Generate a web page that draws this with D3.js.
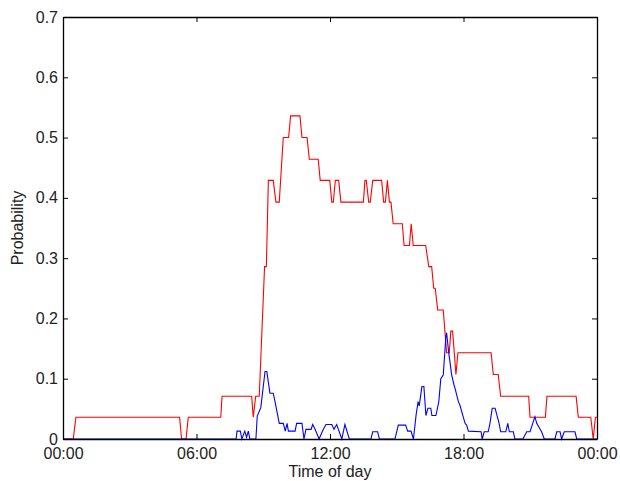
<!DOCTYPE html>
<html>
<head>
<meta charset="utf-8">
<script src="https://cdn.jsdelivr.net/npm/d3@7"></script>
<style>
  body { margin: 0; background: #fff; }
  text { font-family: "Liberation Sans", Arial, sans-serif; }
</style>
</head>
<body>
<div id="my_dataviz"></div>
<script>
// x ticks (hours) and their labels
var hourTicks = [0, 6, 12, 18, 24]
var hourLabels = ["00:00", "06:00", "12:00", "18:00", "00:00"]
var probTicks = [0, 0.1, 0.2, 0.3, 0.4, 0.5, 0.6, 0.7]

// red series: [hour of day, probability]
var redSeries = [
  [0, 0], [0.46, 0], [0.58, 0.036], [5.24, 0.036], [5.33, 0], [5.53, 0], [5.63, 0.036],
  [7.09, 0.036], [7.15, 0.071], [8.48, 0.071], [8.55, 0.036], [8.66, 0.071], [8.82, 0.071],
  [9.06, 0.286], [9.14, 0.286], [9.23, 0.429], [9.45, 0.429], [9.57, 0.393], [9.72, 0.393],
  [9.90, 0.5], [10.14, 0.5], [10.23, 0.536], [10.65, 0.536], [10.74, 0.5], [10.97, 0.5],
  [11.07, 0.464], [11.47, 0.464], [11.56, 0.429], [11.99, 0.429], [12.08, 0.393], [12.15, 0.393],
  [12.24, 0.429], [12.39, 0.429], [12.49, 0.393], [13.50, 0.393], [13.57, 0.429], [13.63, 0.429],
  [13.74, 0.393], [13.81, 0.393], [13.92, 0.429], [14.32, 0.429], [14.41, 0.393], [14.49, 0.393],
  [14.58, 0.429], [14.67, 0.393], [14.74, 0.393], [14.84, 0.357], [15.25, 0.357], [15.33, 0.321],
  [15.57, 0.321], [15.65, 0.357], [15.74, 0.321], [16.30, 0.321], [16.44, 0.286], [16.57, 0.286],
  [16.66, 0.25], [16.73, 0.25], [16.84, 0.214], [17.09, 0.214], [17.24, 0.143], [17.36, 0.143],
  [17.43, 0.179], [17.51, 0.179], [17.66, 0.107], [17.75, 0.143], [19.24, 0.143], [19.34, 0.107],
  [19.56, 0.107], [19.67, 0.071], [20.93, 0.071], [20.99, 0.036], [21.68, 0.036], [21.75, 0.071],
  [23.06, 0.071], [23.16, 0.036], [23.72, 0.036], [23.83, 0], [23.93, 0.036], [24, 0.036]
]

// blue series: [hour of day, probability]
var blueSeries = [
  [0, 0], [7.78, 0], [7.82, 0.013], [7.97, 0.013], [8.04, 0], [8.17, 0.013], [8.25, 0.003],
  [8.33, 0.013], [8.40, 0], [8.67, 0], [8.73, 0.038], [8.89, 0.052], [9.08, 0.112], [9.16, 0.112],
  [9.30, 0.076], [9.45, 0.076], [9.54, 0.06], [9.72, 0.026], [9.90, 0.026], [9.99, 0.013],
  [10.07, 0.026], [10.13, 0.013], [10.43, 0.013], [10.50, 0.026], [10.74, 0.026], [10.83, 0],
  [10.92, 0.016], [11.15, 0.016], [11.22, 0.024], [11.33, 0.016], [11.51, 0], [11.70, 0.016],
  [11.82, 0.024], [12.08, 0.024], [12.18, 0.016], [12.30, 0.024], [12.53, 0], [12.67, 0.024],
  [12.87, 0], [13.84, 0], [13.92, 0.012], [14.14, 0.012], [14.22, 0], [14.92, 0], [15.07, 0.023],
  [15.40, 0.023], [15.49, 0.013], [15.64, 0.013], [15.75, 0], [15.87, 0.04], [15.96, 0.062],
  [16.01, 0.055], [16.13, 0.087], [16.22, 0.087], [16.31, 0.039], [16.40, 0.051], [16.53, 0.051],
  [16.58, 0.039], [16.76, 0.039], [16.89, 0.062], [16.98, 0.1], [17.09, 0.106], [17.21, 0.171],
  [17.24, 0.176], [17.33, 0.145], [17.47, 0.106], [17.57, 0.09], [17.62, 0.084], [17.77, 0.062],
  [17.84, 0.056], [18.07, 0.026], [18.14, 0.023], [18.22, 0.013], [18.79, 0.012], [18.84, 0],
  [18.93, 0.012], [19.11, 0.012], [19.19, 0.026], [19.29, 0.051], [19.42, 0.051], [19.60, 0.026],
  [19.67, 0.012], [19.90, 0.012], [19.99, 0.026], [20.06, 0.012], [20.24, 0.012], [20.31, 0],
  [20.67, 0], [20.84, 0.012], [20.99, 0.012], [21.21, 0.037], [21.29, 0.026], [21.51, 0.012],
  [21.63, 0], [22.11, 0], [22.19, 0.012], [22.34, 0.012], [22.41, 0], [22.53, 0.012],
  [23.01, 0.012], [23.09, 0], [24, 0]
]

// set the dimensions and margins of the graph
var margin = {top: 17, right: 23, bottom: 42, left: 63},
    width = 620 - margin.left - margin.right,
    height = 481 - margin.top - margin.bottom

var svg = d3.select("#my_dataviz")
  .append("svg")
    .attr("width", 620)
    .attr("height", 481)
  .append("g")
    .attr("transform", "translate(" + margin.left + "," + margin.top + ")")

var x = d3.scaleLinear().domain([0, 24]).range([0, width])
var y = d3.scaleLinear().domain([0, 0.7]).range([height, 0])

// lines
var line = d3.line()
  .x(function(d) { return x(d[0]) })
  .y(function(d) { return y(d[1]) })

svg.append("path")
  .datum(redSeries)
  .attr("fill", "none")
  .attr("stroke", "#ff0000")
  .attr("stroke-width", 1.1)
  .attr("d", line)

svg.append("path")
  .datum(blueSeries)
  .attr("fill", "none")
  .attr("stroke", "#0000ff")
  .attr("stroke-width", 1.1)
  .attr("d", line)

// axes, ticks pointing inward
svg.append("g")
  .attr("transform", "translate(0," + height + ")")
  .call(d3.axisBottom(x).tickValues(hourTicks).tickSize(-5).tickSizeOuter(0).tickPadding(9)
    .tickFormat(function(d, i) { return hourLabels[i] }))

svg.append("g")
  .call(d3.axisTop(x).tickValues(hourTicks).tickSize(-5).tickSizeOuter(0).tickFormat(""))

svg.append("g")
  .call(d3.axisLeft(y).tickValues(probTicks).tickSize(-5).tickSizeOuter(0).tickPadding(5)
    .tickFormat(function(d) { return d === 0 ? "0" : d3.format(".1f")(d) }))

svg.append("g")
  .attr("transform", "translate(" + width + ",0)")
  .call(d3.axisRight(y).tickValues(probTicks).tickSize(-5).tickSizeOuter(0).tickFormat(""))

svg.selectAll(".tick text")
  .style("font-size", "16px")
  .style("font-family", "'Liberation Sans', Arial, sans-serif")
  .attr("fill", "#222")
svg.selectAll(".domain").attr("stroke", "#000").attr("stroke-width", 1.3)
svg.selectAll(".tick line").attr("stroke", "#000")

// axis labels
svg.append("text")
  .attr("text-anchor", "middle")
  .attr("x", width / 2)
  .attr("y", height + 38)
  .style("font-size", "16px")
  .attr("fill", "#222")
  .text("Time of day")

svg.append("text")
  .attr("text-anchor", "middle")
  .attr("transform", "rotate(-90)")
  .attr("x", -height / 2)
  .attr("y", -40)
  .style("font-size", "16px")
  .attr("fill", "#222")
  .text("Probability")
</script>
</body>
</html>
